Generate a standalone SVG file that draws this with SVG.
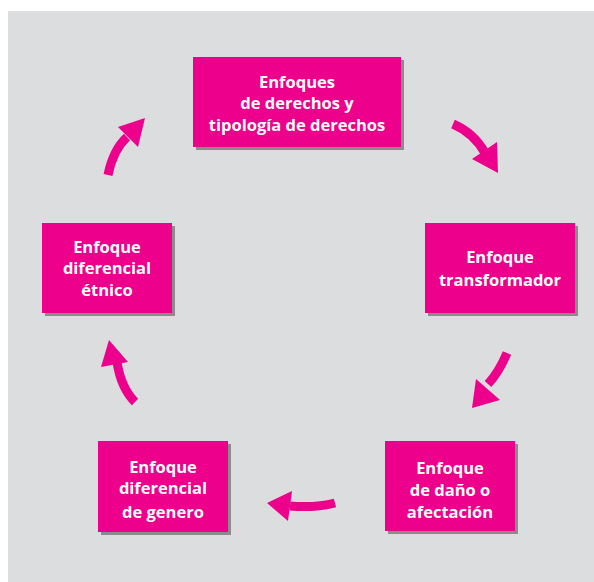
<svg xmlns="http://www.w3.org/2000/svg" width="594" height="582" viewBox="0 0 594 582">
<style>
.box{fill:#EC008C}
.sh{fill:#8C8C8E}
.t{fill:#ffffff;font-family:"Open Sans","Liberation Sans",sans-serif;font-weight:bold;font-size:16.5px;text-anchor:middle}
.shaft{fill:none;stroke:#EC008C;stroke-width:9}
.head{fill:#EC008C}
</style>
<rect x="0" y="0" width="594" height="582" fill="#ffffff"/>
<rect x="8" y="11" width="586" height="571" fill="#DCDDDF"/>
<g id="n1">
<rect class="sh" x="196" y="60" width="208" height="90"/>
<rect class="box" x="193" y="57" width="208" height="90"/>
<text class="t" x="297" y="88">Enfoques</text>
<text class="t" x="297" y="109">de derechos y</text>
<text class="t" x="297" y="131">tipología de derechos</text>
</g>
<g id="n2">
<rect class="sh" x="428" y="226" width="150" height="90"/>
<rect class="box" x="425" y="223" width="150" height="90"/>
<text class="t" x="500" y="263">Enfoque</text>
<text class="t" x="500" y="286">transformador</text>
</g>
<g id="n3">
<rect class="sh" x="388" y="444" width="130" height="90"/>
<rect class="box" x="385" y="441" width="130" height="90"/>
<text class="t" x="450" y="474">Enfoque</text>
<text class="t" x="450" y="496">de daño o</text>
<text class="t" x="450" y="518">afectación</text>
</g>
<g id="n4">
<rect class="sh" x="101" y="444" width="130" height="91"/>
<rect class="box" x="98" y="441" width="130" height="91"/>
<text class="t" x="163" y="473">Enfoque</text>
<text class="t" x="163" y="494">diferencial</text>
<text class="t" x="163" y="518">de genero</text>
</g>
<g id="n5">
<rect class="sh" x="45" y="226" width="130" height="90"/>
<rect class="box" x="42" y="223" width="130" height="90"/>
<text class="t" x="107" y="253">Enfoque</text>
<text class="t" x="107" y="274">diferencial</text>
<text class="t" x="107" y="296">étnico</text>
</g>
<g id="connectors">
<path class="shaft" d="M453,124 Q474,133 485,153"/>
<polygon class="head" points="472,159 497,142 498,173"/>
<path class="shaft" d="M507,353 Q499,372 488,384"/>
<polygon class="head" points="476,379 500,400 472,408"/>
<path class="shaft" d="M335,503 Q316,508 290,506"/>
<polygon class="head" points="292,491 288,521 267,503"/>
<path class="shaft" d="M135,402 Q121,388 117,362"/>
<polygon class="head" points="101,367 128,362 109,340"/>
<path class="shaft" d="M108,175 Q113,150 127,137"/>
<polygon class="head" points="118,127 138,147 145,118"/>
</g>
</svg>
